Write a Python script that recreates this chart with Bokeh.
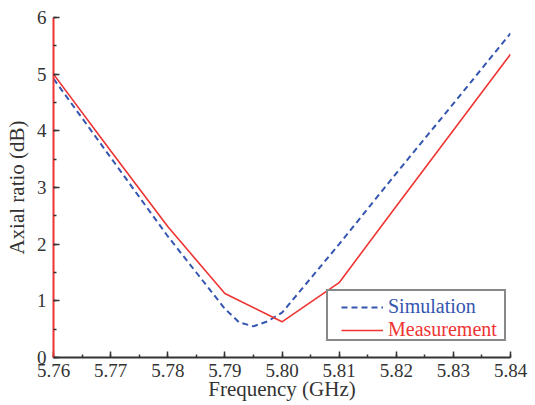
from bokeh.plotting import figure
from bokeh.models import (Legend, LegendItem, Range1d, SingleIntervalTicker,
                          PrintfTickFormatter)
from bokeh.embed import file_html
from bokeh.resources import INLINE

# Simulation (blue dashed)
freq_sim = [5.76, 5.77, 5.78, 5.785, 5.79, 5.7925, 5.795, 5.7975, 5.80,
            5.81, 5.82, 5.83, 5.84]
ar_sim = [4.92, 3.53, 2.14, 1.50, 0.86, 0.62, 0.55, 0.64, 0.79,
          2.00, 3.25, 4.48, 5.72]

# Measurement (red solid)
freq_meas = [5.76, 5.77, 5.78, 5.79, 5.80, 5.81, 5.82, 5.83, 5.84]
ar_meas = [5.00, 3.65, 2.31, 1.13, 0.63, 1.32, 2.67, 4.01, 5.35]

FONT = "Liberation Serif"
BLUE = "#3456B0"
RED = "#EE3333"
DARK = "#333333"

p = figure(width=535, height=405, output_backend="svg", toolbar_location=None,
           x_range=Range1d(5.76, 5.84), y_range=Range1d(0, 6),
           min_border_left=53, min_border_right=25,
           min_border_top=17, min_border_bottom=48)
p.outline_line_color = None
p.grid.visible = False

r_sim = p.line(freq_sim, ar_sim, line_color=BLUE, line_width=2, line_dash="6 4")
r_meas = p.line(freq_meas, ar_meas, line_color=RED, line_width=1.6)

# axes
p.xaxis.ticker = SingleIntervalTicker(interval=0.01, num_minor_ticks=2)
p.xaxis.formatter = PrintfTickFormatter(format="%.2f")
p.yaxis.ticker = SingleIntervalTicker(interval=1, num_minor_ticks=2)

p.axis.major_tick_in = 6
p.axis.major_tick_out = 0
p.axis.minor_tick_in = 3
p.axis.minor_tick_out = 0
p.axis.major_tick_line_color = DARK
p.axis.minor_tick_line_color = DARK
p.axis.major_tick_line_width = 1.5
p.axis.minor_tick_line_width = 1.5
p.axis.major_label_text_font = FONT
p.axis.major_label_text_font_size = "19px"
p.axis.major_label_text_color = DARK
p.axis.axis_label_text_font = FONT
p.axis.axis_label_text_font_size = "21px"
p.axis.axis_label_text_font_style = "normal"
p.axis.axis_label_text_color = DARK

p.xaxis.axis_label = "Frequency (GHz)"
p.xaxis.axis_line_color = DARK
p.xaxis.axis_line_width = 2
p.xaxis.major_label_standoff = 6
p.xaxis.axis_label_standoff = -3

p.yaxis.axis_label = "Axial ratio (dB)"
p.yaxis.axis_line_color = RED
p.yaxis.axis_line_width = 2
p.yaxis.major_label_standoff = 7
p.yaxis.axis_label_standoff = 5

# legend box
dummy = p.line([], [], line_alpha=0)
box = Legend(items=[LegendItem(label=" ", renderers=[dummy])],
             location=(273, 16), padding=5, glyph_width=0, glyph_height=38,
             label_width=166, label_height=38, label_standoff=0,
             border_line_color="#111111", border_line_width=2,
             background_fill_color="white", background_fill_alpha=1,
             label_text_alpha=0)
p.add_layout(box)

def entry(lbl, rend, color, y):
    lg = Legend(items=[LegendItem(label=lbl, renderers=[rend])],
                location=(288, y), padding=0, glyph_width=42, glyph_height=20,
                label_height=20, label_standoff=5,
                border_line_alpha=0, background_fill_alpha=0,
                label_text_font=FONT, label_text_font_size="20px",
                label_text_color=color)
    p.add_layout(lg)

entry("Simulation", r_sim, BLUE, 39)
entry("Measurement", r_meas, RED, 16)

open("out.html", "w").write(file_html(p, INLINE))
